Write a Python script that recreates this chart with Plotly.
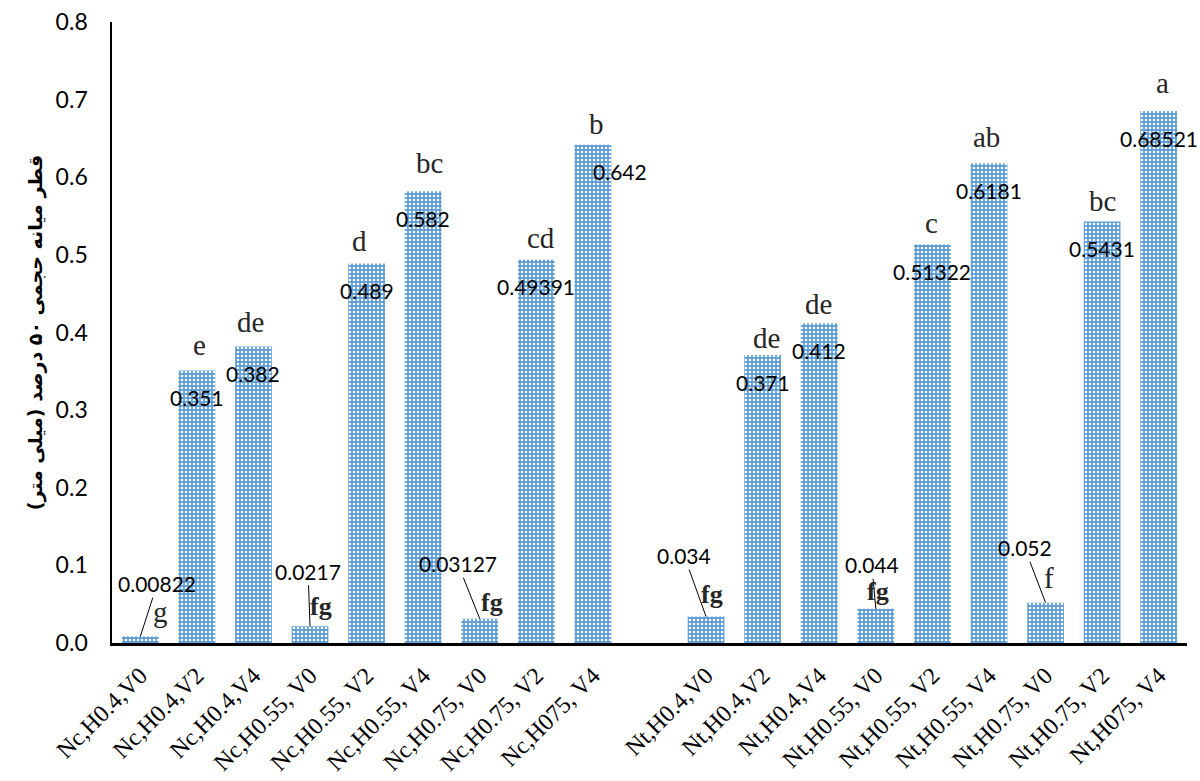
import plotly.graph_objects as go

# --- data -------------------------------------------------------------------
categories = [
    "Nc,H0.4,V0", "Nc,H0.4,V2", "Nc,H0.4,V4",
    "Nc,H0.55, V0", "Nc,H0.55, V2", "Nc,H0.55, V4",
    "Nc,H0.75, V0", "Nc,H0.75, V2", "Nc,H075, V4",
    "Nt,H0.4,V0", "Nt,H0.4,V2", "Nt,H0.4,V4",
    "Nt,H0.55, V0", "Nt,H0.55, V2", "Nt,H0.55, V4",
    "Nt,H0.75, V0", "Nt,H0.75, V2", "Nt,H075, V4",
]
values = [
    0.00822, 0.351, 0.382, 0.0217, 0.489, 0.582, 0.03127, 0.49391, 0.642,
    0.034, 0.371, 0.412, 0.044, 0.51322, 0.6181, 0.052, 0.5431, 0.68521,
]
value_labels = [
    "0.00822", "0.351", "0.382", "0.0217", "0.489", "0.582", "0.03127", "0.49391", "0.642",
    "0.034", "0.371", "0.412", "0.044", "0.51322", "0.6181", "0.052", "0.5431", "0.68521",
]
group_letters = [
    "g", "e", "de", "fg", "d", "bc", "fg", "cd", "b",
    "fg", "de", "de", "fg", "c", "ab", "f", "bc", "a",
]
y_ticks = [0.0, 0.1, 0.2, 0.3, 0.4, 0.5, 0.6, 0.7, 0.8]
y_title = "قطر میانه حجمی ۵۰ درصد (میلی متر)\u200f"

# --- layout helpers ---------------------------------------------------------
# Two treatment groups of nine, separated by one empty slot
slots = list(range(9)) + list(range(10, 19))

# letter placement: (x offset px, baseline height above bar top px, bold)
letter_place = [
    (20, 15, False), (3, 16, False), (-3, 14, False), (11, 11, True), (-7, 12, False),
    (6, 18, False), (12, 8, True), (5, 12, False), (4, 11, False),
    (6, 14, True), (4, 7, False), (-1, 9, False), (2, 9, True), (-1, 12, False),
    (-2, 16, False), (3, 15, False), (0, 10, False), (4, 18, False),
]
# value labels on short bars sit above with a leader line: (ax, ay) in px
leader = {0: (17, -53), 3: (-2, -55), 6: (-22, -55), 9: (-22, -61), 12: (-4, -44), 15: (-21, -55)}
# horizontal nudges for in-bar value labels
label_dx = {8: 27}

BAR_BLUE = "#5B9BD5"
NUM_FONT = "Lato"
SERIF = "Liberation Serif"
PAD = "\u00a0" * 3  # keeps the y tick labels clear of the axis line

fig = go.Figure()
fig.add_trace(go.Bar(
    x=slots,
    y=values,
    marker=dict(
        color=BAR_BLUE,
        line=dict(width=0),
        pattern=dict(shape=".", fgcolor="white", bgcolor=BAR_BLUE,
                     size=4, solidity=0.33, fillmode="replace"),
    ),
    hoverinfo="skip",
))

annotations = []
LETTER_SIZE = 29
for i, (s, v) in enumerate(zip(slots, values)):
    if i in leader:
        ax, ay = leader[i]
        annotations.append(dict(
            x=s, y=v, xref="x", yref="y", text=value_labels[i],
            showarrow=True, arrowhead=0, arrowwidth=1, arrowcolor="black",
            ax=ax, ay=ay, font=dict(family=NUM_FONT, size=21, color="black"),
        ))
    else:
        annotations.append(dict(
            x=s, y=v, xref="x", yref="y", text=value_labels[i], showarrow=False,
            yanchor="middle", yshift=-27, xshift=label_dx.get(i, 0),
            font=dict(family=NUM_FONT, size=21, color="black"),
        ))
    dx, base, bold = letter_place[i]
    txt = f"<b>{group_letters[i]}</b>" if bold else group_letters[i]
    annotations.append(dict(
        x=s, y=v, xref="x", yref="y", text=txt, showarrow=False,
        yanchor="bottom", yshift=base - 8, xshift=dx,
        font=dict(family=SERIF, size=LETTER_SIZE if not bold else 26, color="#262626"),
    ))

fig.update_layout(
    width=1200, height=781,
    margin=dict(l=112, r=13, t=22, b=138),
    plot_bgcolor="white", paper_bgcolor="white",
    bargap=0.35,
    showlegend=False,
    annotations=annotations,
    xaxis=dict(
        range=[-0.5, 18.5], automargin=False,
        tickmode="array", tickvals=slots, ticktext=categories,
        tickangle=-45, ticks="", ticklabelstandoff=6,
        tickfont=dict(family=SERIF, size=24, color="black"),
        showline=True, linecolor="black", linewidth=3,
        showgrid=False, zeroline=False,
    ),
    yaxis=dict(
        range=[0, 0.8], automargin=False,
        tickmode="array", tickvals=y_ticks,
        ticktext=[f"{t:.1f}{PAD}" for t in y_ticks],
        ticks="",
        tickfont=dict(family=NUM_FONT, size=23, color="black"),
        showline=True, linecolor="black", linewidth=2,
        showgrid=False, zeroline=False,
        title=dict(text=f"<b>{y_title}</b>", standoff=8,
                   font=dict(family="DejaVu Sans", size=19, color="black")),
    ),
)

fig.write_html("out.html")
